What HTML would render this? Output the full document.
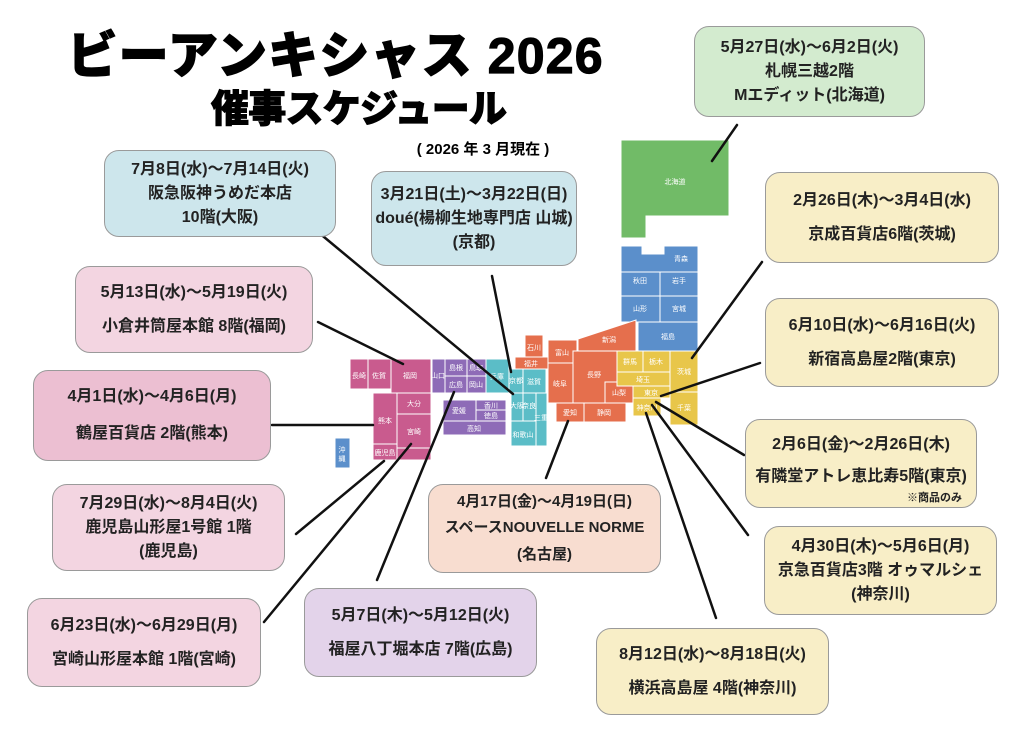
<!DOCTYPE html>
<html><head><meta charset="utf-8"><style>
body{margin:0;width:1024px;height:730px;background:#fff;overflow:hidden;position:relative;font-family:"Liberation Sans","Noto Sans CJK JP",sans-serif}
.b{position:absolute;box-sizing:border-box;border:1.5px solid #9a9a9a;border-radius:15px;display:flex;flex-direction:column;justify-content:center;align-items:center;text-align:center;font-weight:bold;font-size:16px;color:#222;line-height:1.5}
.g{background:#d3ebcf}.lb{background:#cde6ec}.pk{background:#f3d5e1}.dp{background:#ecbfd2}.y{background:#f8eec7}.pc{background:#f8ddd0}.lv{background:#e3d3ea}
svg{position:absolute;left:0;top:0}
</style></head><body>
<svg width="1024" height="730" font-family="Liberation Sans, Noto Sans CJK JP, sans-serif">
<text x="335" y="73" text-anchor="middle" font-size="50" font-weight="900" fill="#000" stroke="#000" stroke-width="1.2" textLength="535">ビーアンキシャス 2026</text>
<text x="359" y="122" text-anchor="middle" font-size="38" font-weight="900" fill="#000" stroke="#000" stroke-width="1" textLength="296">催事スケジュール</text>
<text x="483" y="154" text-anchor="middle" font-size="15" font-weight="bold" fill="#000">( 2026 年 3 月現在 )</text>
<g stroke="#fff" stroke-width="1" font-size="7" fill-opacity="1">
<path d="M621 140H729V216H646V238H621Z" fill="#71bb67"/>
<path d="M621 246H642V254H664V246H698V272H621Z" fill="#5b8fcb"/>
<rect x="621" y="272" width="39" height="24" fill="#5b8fcb"/><rect x="660" y="272" width="38" height="24" fill="#5b8fcb"/>
<rect x="621" y="296" width="39" height="26" fill="#5b8fcb"/><rect x="660" y="296" width="38" height="26" fill="#5b8fcb"/>
<rect x="638" y="322" width="60" height="29" fill="#5b8fcb"/>
<path d="M578 339L636 320V351H578Z" fill="#e56f4d"/>
<rect x="525" y="335" width="18" height="22" fill="#e56f4d"/>
<rect x="515" y="357" width="33" height="12" fill="#e56f4d"/>
<rect x="548" y="340" width="29" height="23" fill="#e56f4d"/>
<rect x="548" y="363" width="25" height="40" fill="#e56f4d"/>
<rect x="573" y="351" width="44" height="52" fill="#e56f4d"/>
<rect x="605" y="382" width="28" height="21" fill="#e56f4d"/>
<rect x="556" y="403" width="28" height="19" fill="#e56f4d"/>
<rect x="584" y="403" width="42" height="19" fill="#e56f4d"/>
<rect x="617" y="351" width="26" height="21" fill="#e8c64a"/><rect x="643" y="351" width="27" height="21" fill="#e8c64a"/>
<rect x="670" y="351" width="28" height="41" fill="#e8c64a"/>
<rect x="617" y="372" width="53" height="14" fill="#e8c64a"/>
<rect x="633" y="386" width="37" height="12" fill="#e8c64a"/>
<rect x="633" y="398" width="28" height="18" fill="#e8c64a"/>
<rect x="670" y="392" width="28" height="33" fill="#e8c64a"/>
<rect x="486" y="359" width="23" height="34" fill="#5bbdc7"/>
<rect x="509" y="369" width="14" height="24" fill="#5bbdc7"/>
<rect x="523" y="369" width="23" height="24" fill="#5bbdc7"/>
<rect x="511" y="393" width="12" height="28" fill="#5bbdc7"/>
<rect x="523" y="393" width="13" height="28" fill="#5bbdc7"/>
<rect x="536" y="393" width="11" height="53" fill="#5bbdc7"/>
<rect x="511" y="421" width="25" height="25" fill="#5bbdc7"/>
<rect x="432" y="359" width="13" height="34" fill="#8e6bb7"/>
<rect x="445" y="359" width="22" height="17" fill="#8e6bb7"/><rect x="467" y="359" width="19" height="17" fill="#8e6bb7"/>
<rect x="445" y="376" width="22" height="17" fill="#8e6bb7"/><rect x="467" y="376" width="19" height="17" fill="#8e6bb7"/>
<rect x="443" y="400" width="33" height="21" fill="#8e6bb7"/><rect x="476" y="400" width="30" height="10" fill="#8e6bb7"/>
<rect x="476" y="410" width="30" height="11" fill="#8e6bb7"/><rect x="443" y="421" width="63" height="14" fill="#8e6bb7"/>
<rect x="350" y="359" width="18" height="30" fill="#c95b8e"/><rect x="368" y="359" width="23" height="30" fill="#c95b8e"/>
<rect x="391" y="359" width="40" height="34" fill="#c95b8e"/>
<rect x="373" y="393" width="24" height="51" fill="#c95b8e"/>
<rect x="397" y="393" width="34" height="21" fill="#c95b8e"/>
<rect x="397" y="414" width="34" height="34" fill="#c95b8e"/>
<rect x="373" y="444" width="24" height="16" fill="#c95b8e"/><rect x="397" y="448" width="34" height="12" fill="#c95b8e"/>
<rect x="335" y="438" width="15" height="30" fill="#5b8fcb"/>
</g>
<g fill="#fff" font-size="7" text-anchor="middle">
<text x="675" y="184">北海道</text><text x="681" y="261">青森</text><text x="640" y="283">秋田</text><text x="679" y="283">岩手</text>
<text x="640" y="311">山形</text><text x="679" y="311">宮城</text><text x="668" y="339">福島</text><text x="609" y="342">新潟</text>
<text x="534" y="350">石川</text><text x="531" y="366">福井</text><text x="562" y="355">富山</text><text x="560" y="386">岐阜</text>
<text x="594" y="377">長野</text><text x="619" y="395">山梨</text><text x="570" y="415">愛知</text><text x="604" y="415">静岡</text>
<text x="630" y="364">群馬</text><text x="656" y="364">栃木</text><text x="684" y="374">茨城</text><text x="643" y="382">埼玉</text>
<text x="651" y="395">東京</text><text x="647" y="410">神奈川</text><text x="684" y="410">千葉</text>
<text x="497" y="379">兵庫</text><text x="516" y="383">京都</text><text x="534" y="384">滋賀</text><text x="517" y="408">大阪</text>
<text x="529" y="408">奈良</text><text x="541" y="420">三重</text><text x="523" y="437">和歌山</text>
<text x="438" y="378">山口</text><text x="456" y="370">島根</text><text x="476" y="370">鳥取</text><text x="456" y="387">広島</text><text x="476" y="387">岡山</text>
<text x="459" y="413">愛媛</text><text x="491" y="408">香川</text><text x="491" y="418">徳島</text><text x="474" y="431">高知</text>
<text x="359" y="378">長崎</text><text x="379" y="378">佐賀</text><text x="410" y="378">福岡</text><text x="385" y="423">熊本</text>
<text x="414" y="406">大分</text><text x="414" y="434">宮崎</text><text x="385" y="455">鹿児島</text><text x="342" y="452">沖</text><text x="342" y="461">縄</text>
</g>
<g stroke="#111" stroke-width="2.5" stroke-linecap="round">
<line x1="737" y1="125" x2="712" y2="161"/>
<line x1="318" y1="232" x2="513" y2="394"/>
<line x1="492" y1="276" x2="511" y2="372"/>
<line x1="318" y1="322" x2="403" y2="364"/>
<line x1="272" y1="425" x2="373" y2="425"/>
<line x1="296" y1="534" x2="384" y2="461"/>
<line x1="264" y1="622" x2="411" y2="444"/>
<line x1="377" y1="580" x2="454" y2="392"/>
<line x1="546" y1="478" x2="568" y2="421"/>
<line x1="762" y1="262" x2="692" y2="358"/>
<line x1="760" y1="363" x2="661" y2="396"/>
<line x1="744" y1="455" x2="656" y2="402"/>
<line x1="748" y1="535" x2="652" y2="405"/>
<line x1="716" y1="618" x2="646" y2="413"/>
</g>
</svg>
<div class="b g" style="left:694px;top:26px;width:231px;height:91px">5月27日(水)〜6月2日(火)<br>札幌三越2階<br>Mエディット(北海道)</div>
<div class="b lb" style="left:104px;top:150px;width:232px;height:87px">7月8日(水)〜7月14日(火)<br>阪急阪神うめだ本店<br>10階(大阪)</div>
<div class="b lb" style="left:371px;top:171px;width:206px;height:95px">3月21日(土)〜3月22日(日)<br>doué(楊柳生地専門店 山城)<br>(京都)</div>
<div class="b y" style="left:765px;top:172px;width:234px;height:91px;line-height:2.1">2月26日(木)〜3月4日(水)<br>京成百貨店6階(茨城)</div>
<div class="b pk" style="left:75px;top:266px;width:238px;height:87px;line-height:2.1">5月13日(水)〜5月19日(火)<br>小倉井筒屋本館 8階(福岡)</div>
<div class="b y" style="left:765px;top:298px;width:234px;height:89px;line-height:2.1">6月10日(水)〜6月16日(火)<br>新宿高島屋2階(東京)</div>
<div class="b dp" style="left:33px;top:370px;width:238px;height:91px;line-height:2.3">4月1日(水)〜4月6日(月)<br>鶴屋百貨店 2階(熊本)</div>
<div class="b y" style="left:745px;top:419px;width:232px;height:89px;line-height:2;padding-bottom:6px">2月6日(金)〜2月26日(木)<br>有隣堂アトレ恵比寿5階(東京)<span style="position:absolute;right:14px;bottom:3px;font-size:11px;line-height:1">※商品のみ</span></div>
<div class="b pk" style="left:52px;top:484px;width:233px;height:87px">7月29日(水)〜8月4日(火)<br>鹿児島山形屋1号館 1階<br>(鹿児島)</div>
<div class="b pc" style="left:428px;top:484px;width:233px;height:89px;font-size:15px;line-height:1.75">4月17日(金)〜4月19日(日)<br>スペースNOUVELLE NORME<br>(名古屋)</div>
<div class="b y" style="left:764px;top:526px;width:233px;height:89px">4月30日(木)〜5月6日(月)<br>京急百貨店3階 オゥマルシェ<br>(神奈川)</div>
<div class="b pk" style="left:27px;top:598px;width:234px;height:89px;line-height:2.1">6月23日(水)〜6月29日(月)<br>宮崎山形屋本館 1階(宮崎)</div>
<div class="b lv" style="left:304px;top:588px;width:233px;height:89px;line-height:2.1">5月7日(木)〜5月12日(火)<br>福屋八丁堀本店 7階(広島)</div>
<div class="b y" style="left:596px;top:628px;width:233px;height:87px;line-height:2.1">8月12日(水)〜8月18日(火)<br>横浜高島屋 4階(神奈川)</div>
</body></html>
